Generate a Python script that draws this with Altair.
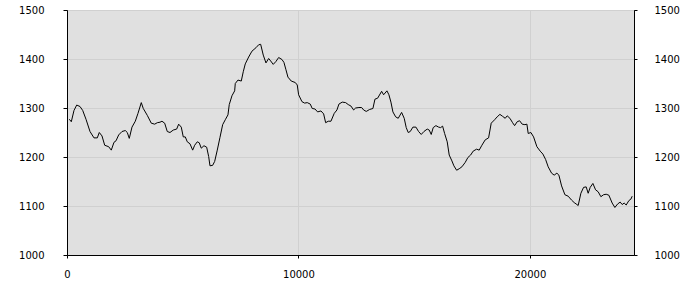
import altair as alt
import pandas as pd

xs = [100, 186, 302, 419, 562, 678, 821, 994, 1166, 1309, 1395, 1512, 1629, 1801, 1914, 2030,
      2117, 2233, 2376, 2519, 2605, 2691, 2808, 2951, 3067, 3210, 3296, 3469, 3642, 3789, 3901,
      4018, 4104, 4221, 4333, 4450, 4592, 4739, 4825, 4938, 5024, 5111, 5197, 5314, 5430, 5517,
      5629, 5715, 5802, 5918, 6035, 6121, 6178, 6294, 6381, 6493, 6610, 6726, 6839, 6955, 7011,
      7128, 7245, 7271, 7387, 7530, 7616, 7703, 7849, 7992, 8165, 8281, 8368, 8480, 8597, 8713,
      8800, 8912, 9029, 9145, 9288, 9374, 9461, 9547, 9690, 9863, 9949, 10009, 10152, 10269,
      10381, 10511, 10597, 10714, 10830, 10973, 11089, 11176, 11288, 11405, 11547, 11664, 11750,
      11893, 12040, 12152, 12269, 12385, 12472, 12614, 12731, 12817, 12930, 13077, 13219, 13306,
      13422, 13595, 13681, 13824, 13910, 13997, 14083, 14200, 14312, 14459, 14571, 14658, 14744,
      14831, 14947, 15077, 15193, 15306, 15422, 15565, 15651, 15738, 15824, 15941, 16057, 16144,
      16230, 16317, 16429, 16515, 16632, 16718, 16835, 16947, 17064, 17207, 17323, 17440, 17552,
      17699, 17811, 17928, 18071, 18217, 18330, 18477, 18589, 18706, 18822, 18935, 19021, 19138,
      19254, 19341, 19453, 19557, 19669, 19786, 19872, 19928, 20045, 20161, 20304, 20447, 20563,
      20680, 20792, 20939, 21051, 21168, 21254, 21371, 21514, 21656, 21803, 21915, 22032, 22088,
      22205, 22321, 22434, 22520, 22607, 22723, 22840, 22952, 23069, 23185, 23298, 23414, 23557,
      23674, 23790, 23903, 23989, 24075, 24162, 24278, 24365, 24421]

ys = [1277, 1272, 1295, 1306, 1303, 1295, 1277, 1252, 1239, 1239, 1250, 1243, 1224, 1221, 1214,
      1230, 1233, 1245, 1252, 1254, 1250, 1238, 1261, 1273, 1289, 1311, 1299, 1285, 1269, 1267,
      1270, 1271, 1273, 1269, 1252, 1250, 1255, 1257, 1267, 1261, 1241, 1241, 1231, 1227, 1214,
      1224, 1231, 1229, 1218, 1223, 1220, 1201, 1182, 1183, 1191, 1214, 1240, 1266, 1276, 1286,
      1307, 1325, 1335, 1350, 1357, 1355, 1374, 1390, 1404, 1416, 1423, 1429, 1430, 1408, 1392,
      1401, 1396, 1389, 1395, 1403, 1399, 1393, 1378, 1363, 1355, 1352, 1347, 1327, 1313, 1310,
      1311, 1308, 1299, 1298, 1292, 1294, 1288, 1270, 1273, 1273, 1289, 1296, 1308, 1312, 1311,
      1307, 1304, 1296, 1300, 1301, 1301, 1296, 1293, 1297, 1299, 1318, 1320, 1334, 1327, 1335,
      1327, 1312, 1292, 1282, 1279, 1291, 1279, 1260, 1250, 1252, 1261, 1261, 1252, 1246, 1252,
      1257, 1255, 1246, 1260, 1264, 1261, 1260, 1263, 1248, 1231, 1204, 1192, 1182, 1173, 1176,
      1180, 1189, 1199, 1204, 1212, 1216, 1214, 1224, 1235, 1239, 1269, 1276, 1282, 1287, 1283,
      1279, 1284, 1279, 1270, 1264, 1272, 1274, 1267, 1266, 1267, 1248, 1250, 1241, 1221, 1212,
      1206, 1195, 1180, 1167, 1163, 1167, 1163, 1141, 1123, 1120, 1112, 1107, 1103, 1101, 1126,
      1138, 1139, 1126, 1138, 1146, 1133, 1129, 1119, 1123, 1124, 1122, 1106, 1097, 1104, 1108,
      1103, 1106, 1102, 1111, 1114, 1120]

x_ticks = [0, 10000, 20000]
y_ticks = [1000, 1100, 1200, 1300, 1400, 1500]

df = pd.DataFrame({"x": xs, "y": ys})

FONT = "DejaVu Sans"
GRID = "#d0d0d0"

x_enc = alt.X("x:Q", scale=alt.Scale(domain=[0, 24500], nice=False, zero=False),
              axis=alt.Axis(values=x_ticks, title=None, format="d", grid=True,
                            gridColor=GRID, tickColor="black", domainColor="black",
                            tickSize=3, labelPadding=11, labelFont=FONT, labelFontSize=10,
                            labelColor="black", labelFlush=False))

left = alt.Chart(df).mark_line(color="black", strokeWidth=1).encode(
    x=x_enc,
    y=alt.Y("y:Q", scale=alt.Scale(domain=[1000, 1500], nice=False, zero=False),
            axis=alt.Axis(values=y_ticks, title=None, format="d", grid=True,
                          gridColor=GRID, tickColor="black", domainColor="black",
                          tickSize=4, labelPadding=19, labelFont=FONT, labelFontSize=10,
                          labelColor="black", orient="left", labelFlush=False)),
)

right = alt.Chart(df).mark_line(strokeOpacity=0).encode(
    x=x_enc,
    y=alt.Y("y:Q", scale=alt.Scale(domain=[1000, 1500], nice=False, zero=False),
            axis=alt.Axis(values=y_ticks, title=None, format="d", grid=False,
                          tickColor="black", domainColor="black",
                          tickSize=3, labelPadding=17, labelFont=FONT, labelFontSize=10,
                          labelColor="black", orient="right", labelAlign="left",
                          labelFlush=False)),
)

chart = alt.layer(left, right).resolve_scale(y="independent").properties(
    width=567, height=245,
    autosize="none",
    padding={"left": 67, "top": 10, "right": 66, "bottom": 45},
    background="white",
).configure_view(
    fill="#e0e0e0", stroke="black", strokeWidth=1
)

chart.save("out.html", embed_options={"renderer": "svg", "actions": False})
